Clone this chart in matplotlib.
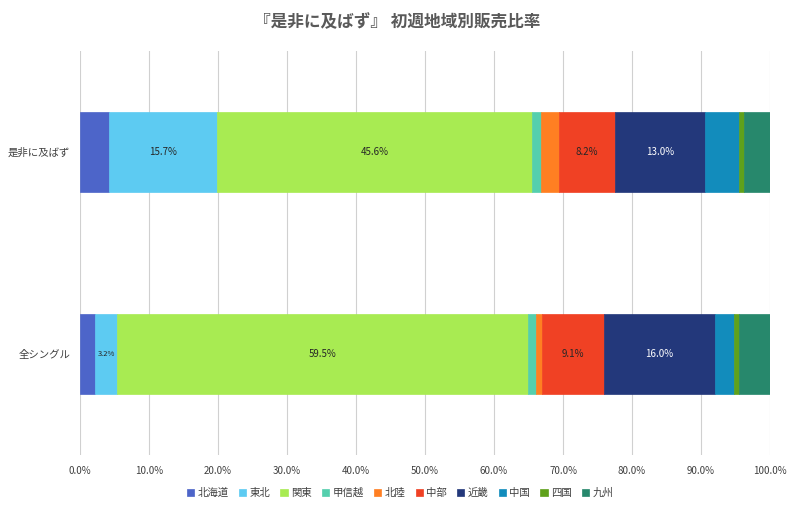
import matplotlib
matplotlib.use("Agg")
import matplotlib.pyplot as plt
import numpy as np

plt.rcParams['font.family'] = ['Noto Sans CJK JP', 'DejaVu Sans']

categories = ['是非に及ばず', '全シングル']
regions = ['北海道', '東北', '関東', '甲信越', '北陸', '中部', '近畿', '中国', '四国', '九州']
values_song = [4.2, 15.7, 45.6, 1.3, 2.6, 8.2, 13.0, 4.9, 0.8, 3.7]
values_all = [2.2, 3.2, 59.5, 1.2, 0.8, 9.1, 16.0, 2.8, 0.7, 4.5]
colors = ['#4d65c9', '#5dcbf2', '#a8eb52', '#55cfad', '#ff7f22', '#f04124',
          '#23387b', '#128cbc', '#5fa11b', '#27886c']
labeled = ['東北', '関東', '中部', '近畿']
title = '『是非に及ばず』 初週地域別販売比率'

data = np.array([values_song, values_all])

fig = plt.figure(figsize=(8, 5.09), dpi=100)
ax = fig.add_axes([0.1, 1 - 455/509, 0.8625, (455 - 51)/509])

y = np.arange(len(categories))
left = np.zeros(len(categories))
for i, reg in enumerate(regions):
    vals = data[:, i]
    ax.barh(y, vals, left=left, height=0.4, color=colors[i], label=reg,
            edgecolor=colors[i], linewidth=0.5, zorder=3)
    if reg in labeled:
        for j in range(len(categories)):
            v = vals[j]
            tc = 'white' if reg == '近畿' else '#262626'
            fs = 5.5 if v < 5 else 7
            ax.text(left[j] + v / 2, y[j], f'{v:.1f}%', ha='center', va='center',
                    fontsize=fs, color=tc, zorder=4)
    left += vals

ax.set_xlim(0, 100)
ax.set_ylim(len(categories) - 0.5, -0.5)
ax.set_yticks(y)
ax.set_yticklabels(categories, fontsize=7.5, color='#404040')
ax.set_xticks(np.arange(0, 101, 10))
ax.set_xticklabels([f'{t:.1f}%' for t in np.arange(0, 101, 10)], fontsize=7, color='#404040')
ax.tick_params(axis='both', length=0, pad=8)
ax.tick_params(axis='y', pad=7)
ax.grid(axis='x', color='#d0d0d0', linewidth=0.8, zorder=0)
for s in ax.spines.values():
    s.set_visible(False)

fig.text(0.497, 1 - 22/509, title, ha='center', va='center', fontsize=12,
         fontweight='bold', color='#595959')

leg = fig.legend(loc='center', bbox_to_anchor=(0.5, 1 - 493/509), ncol=10,
                 frameon=False, fontsize=7.5, handlelength=0.7, handleheight=0.7,
                 handletextpad=0.3, columnspacing=1.0)
for t in leg.get_texts():
    t.set_color('#404040')

fig.savefig('out.png', dpi=100, facecolor='white')
